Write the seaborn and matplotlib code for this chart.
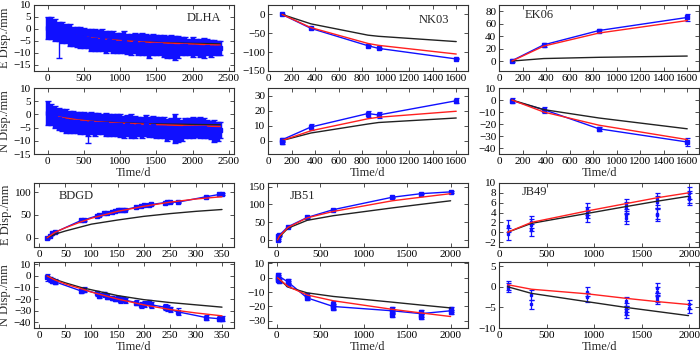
import matplotlib
matplotlib.use("Agg")
import matplotlib.pyplot as plt
import numpy as np
import pandas as pd
import seaborn as sns

# ---------------- data ----------------
# DLHA: dense daily series, sampled every 50 d (centre of blue band and half-width)
dlha_t = [0, 50, 100, 150, 200, 250, 300, 350, 400, 450, 500, 550, 600, 650, 700, 750,
          800, 850, 900, 950, 1000, 1050, 1100, 1150, 1200, 1250, 1300, 1350, 1400, 1450,
          1500, 1550, 1600, 1650, 1700, 1750, 1800, 1850, 1900, 1950, 2000, 2050, 2100,
          2150, 2200, 2250, 2300, 2350, 2380]
dlha_e = [0.5, 0.5, -0.5, -1.0, -1.5, -2.0, -2.5, -3.0, -3.2, -3.5, -3.8, -4.0, -4.5, -4.5,
          -4.8, -4.5, -5.5, -5.0, -5.5, -5.8, -5.8, -5.5, -6.2, -6.5, -5.8, -6.5, -6.2, -6.5,
          -7.2, -6.5, -6.8, -6.8, -7.0, -7.5, -7.2, -8.0, -7.5, -7.2, -7.2, -7.5, -7.5, -7.5,
          -7.8, -7.8, -7.5, -8.0, -7.8, -8.0, -8.0]
dlha_e_err = [4.5, 4.5, 4.5, 4.0, 4.5, 4.0, 4.5, 4.0, 4.2, 4.5, 4.3, 4.0, 4.5, 4.5, 4.2, 4.5,
              4.5, 4.0, 4.5, 4.2, 4.2, 4.5, 4.2, 4.5, 4.2, 4.5, 4.7, 4.5, 4.7, 4.5, 4.2, 4.2,
              4.5, 4.5, 4.7, 5.0, 4.5, 3.7, 3.7, 3.5, 4.0, 3.5, 3.7, 4.2, 3.5, 3.5, 3.2, 3.0, 3.0]
dlha_n = [0.5, 0.0, -1.0, -1.8, -2.2, -2.5, -2.8, -2.8, -3.0, -3.2, -3.2, -3.8, -3.2, -3.8,
          -3.5, -3.8, -3.8, -4.0, -4.0, -4.0, -4.2, -4.8, -4.2, -4.5, -4.8, -4.5, -5.0, -4.2,
          -4.8, -4.5, -5.0, -5.0, -5.0, -5.8, -5.5, -5.5, -6.0, -6.0, -5.2, -5.2, -5.0, -5.0,
          -5.0, -5.2, -5.5, -6.0, -6.2, -6.5, -6.0]
dlha_n_err = [4.5, 4.0, 4.0, 4.2, 4.2, 4.5, 4.2, 4.2, 4.0, 4.2, 4.2, 4.2, 4.2, 4.2, 4.0, 3.8,
              4.2, 4.0, 4.0, 4.0, 4.2, 4.2, 3.8, 4.5, 4.2, 3.5, 4.0, 3.8, 3.8, 4.0, 4.0, 4.0,
              4.0, 4.2, 4.0, 5.5, 4.5, 4.0, 3.8, 3.8, 4.0, 3.5, 4.0, 3.8, 3.5, 3.5, 4.2, 3.5, 3.0]
dlha_e_out_t, dlha_e_out, dlha_e_out_err = [150], [-8.0], [4.0]
dlha_n_out_t, dlha_n_out, dlha_n_out_err = [560], [-8.0], [3.0]
dlha_mt = [0, 100, 200, 400, 600, 800, 1000, 1250, 1500, 1750, 2000, 2250, 2380]
dlha_e_red = [0.5, -0.6, -1.5, -2.8, -3.7, -4.3, -4.8, -5.3, -5.7, -6.0, -6.3, -6.6, -6.7]
dlha_e_blk = [0.3, -0.8, -1.6, -2.9, -3.8, -4.4, -4.9, -5.3, -5.6, -5.8, -6.0, -6.1, -6.2]
dlha_n_red = [0.2, -0.6, -1.2, -2.0, -2.6, -3.0, -3.3, -3.6, -3.9, -4.1, -4.3, -4.5, -4.6]
dlha_n_blk = [0.0, -0.8, -1.3, -2.1, -2.6, -2.9, -3.2, -3.4, -3.6, -3.7, -3.8, -3.9, -3.9]

# NK03
nk03_t = [120, 365, 850, 940, 1600]
nk03_e = [0, -37, -83, -90, -118]
nk03_e_err = [1.5, 1.5, 1.5, 1.5, 1.5]
nk03_e_red = [0, -35, -77, -82, -105]
nk03_e_blk = [0, -25, -55, -58, -72]
nk03_n = [0.5, 9, 18, 17, 26.5]
nk03_n_err = [1.2, 2, 2, 1.8, 1.8]
nk03_n_red = [0, 6.5, 14.5, 15.5, 19.5]
nk03_n_blk = [0, 5, 11, 12, 15]

# EK06
ek06_t = [110, 380, 850, 1600]
ek06_e = [0.5, 26, 49, 70]
ek06_e_err = [2, 3, 2, 5]
ek06_e_red = [0, 24, 45, 65]
ek06_e_blk = [0, 4, 6, 8]
ek06_n = [-0.5, -8, -24, -35]
ek06_n_err = [2, 2.5, 1.5, 3.5]
ek06_n_red = [0, -10, -21, -33]
ek06_n_blk = [0, -8, -15, -24]

# BDGD
bdgd_t = [15, 20, 25, 30, 80, 85, 110, 115, 125, 130, 140, 145, 150, 155, 160, 165,
          185, 195, 200, 210, 215, 240, 245, 250, 265, 320, 345, 350]
bdgd_e = [0, 5, 10, 12, 38, 39, 48, 50, 54, 55, 57, 58, 60, 61, 62, 62,
          67, 70, 71, 72, 73, 77, 78, 78, 78, 90, 95, 96]
bdgd_n = [-1, -3, -4, -5, -13, -12, -15, -17, -16, -18, -19, -20, -19, -21, -20, -21,
          -23, -25, -24, -23, -25, -27, -28, -29, -31, -36, -37, -37]
bdgd_n_err = [3, 2, 2, 2, 2, 2, 2, 2, 2, 2, 2, 2, 2, 2, 2, 2,
              2.5, 2.5, 2.5, 2.5, 2.5, 2.5, 2.5, 2.5, 3, 2, 2, 2]
bdgd_mt = [15, 30, 50, 80, 100, 150, 200, 250, 300, 350]
bdgd_e_red = [0, 12, 22, 35, 43, 58, 69, 78, 85, 90]
bdgd_e_blk = [0, 8, 15, 24, 30, 39, 47, 53, 58, 62]
bdgd_n_red = [0, -3.5, -7, -11, -14, -20, -25, -29, -32, -34.5]
bdgd_n_blk = [0, -3, -6, -10, -12, -17, -20.5, -23, -25, -27]

# JB51
jb51_t = [10, 20, 30, 130, 350, 650, 1330, 1660, 2000]
jb51_e = [0, 10, 13, 37, 63, 85, 120, 130, 135]
jb51_e_red = [0, 5, 10, 35, 62, 80, 110, 120, 130]
jb51_e_blk = [0, 5, 8, 33, 55, 68, 90, 100, 110]
jb51_n_line = [2, -1, 1, -3, -14, -20, -23, -25, -23]
jb51_n_pt_t = [10, 10, 20, 20, 30, 130, 130, 350, 350, 650, 650, 650,
               1330, 1330, 1330, 1660, 1660, 1660, 2000, 2000]
jb51_n_pt = [2, -1.5, 0.5, -1, -2, -2, -4, -12, -14, -18, -20, -21,
             -22, -24, -26, -24, -26, -27, -22, -24]
jb51_mt = [10, 130, 350, 650, 1330, 1660, 2000]
jb51_n_red = [0, -6, -12, -16, -22, -24.5, -27]
jb51_n_blk = [0, -6.5, -10.5, -13, -17, -19, -21]

# JB49 (scattered repeated measurements, no connecting line)
jb49_t = [90, 340, 920, 1330, 1660, 1990]
jb49_e_red = [0, 2, 4.3, 5.8, 7, 8]
jb49_e_blk = [0, 1.8, 3.8, 5.2, 6.3, 7.3]
jb49_n_red = [0.5, -0.6, -1.7, -2.8, -3.6, -4.3]
jb49_n_blk = [0, -1.6, -3.6, -5, -6, -7]
jb49_e_pt_t = [90, 90, 340, 340, 340, 920, 920, 920, 1330, 1330, 1330, 1330,
               1660, 1660, 1660, 1660, 1990, 1990, 1990]
jb49_e_pt = [1.2, -0.3, 2.0, 1.5, 0.5, 4.8, 4.0, 3.2, 5.5, 5.0, 3.5, 2.8,
             6.8, 6.2, 3.8, 3.5, 8.0, 7.2, 6.8]
jb49_n_pt_t = [90, 90, 340, 340, 920, 920, 1330, 1330, 1330, 1330,
               1660, 1660, 1660, 1660, 1990, 1990]
jb49_n_pt = [0.3, -0.2, -2.0, -4.3, -1.2, -2.6, -3.5, -5.0, -5.8, -6.5,
             -0.3, -1.2, -2.6, -3.2, -4.2, -5.2]

# ---------------- style ----------------
sns.set_theme(style="ticks")
plt.rcParams["font.family"] = ["Liberation Serif", "DejaVu Serif"]
plt.rcParams["axes.edgecolor"] = "#333333"
plt.rcParams["axes.linewidth"] = 0.8

BLUE = "#1010ff"
RED = "#ff2020"
BLK = "#222222"

W, H = 700, 355
fig = plt.figure(figsize=(W / 100, H / 100), dpi=100)


def add_ax(x0, x1, y0, y1):
    # pixel box -> figure fraction
    return fig.add_axes([x0 / W, 1 - y1 / H, (x1 - x0) / W, (y1 - y0) / H])


cols = [(34, 234), (268, 468), (499, 699)]
rows = [(5, 71), (88, 154), (183, 247), (262, 328)]
axes = [[add_ax(c[0], c[1], r[0], r[1]) for c in cols] for r in rows]


def model(ax, t, red, blk):
    sns.lineplot(x=t, y=blk, color=BLK, linewidth=1.0, ax=ax, estimator=None, sort=False)
    sns.lineplot(x=t, y=red, color=RED, linewidth=1.0, ax=ax, estimator=None, sort=False)


def obs(ax, t, y, err, line=True, ms=2.5):
    if line:
        sns.lineplot(x=t, y=y, color=BLUE, linewidth=1.0, ax=ax, estimator=None, sort=False)
    ax.errorbar(t, y, yerr=err, fmt="s", color=BLUE, ms=ms, elinewidth=0.9,
                capsize=1.8, capthick=0.9, ls="none", zorder=1.5)


def style(ax, xlim, xticks, ylim, yticks, label=None, lpos=(0.8, 0.8)):
    ax.set_xlim(*xlim)
    ax.set_ylim(*ylim)
    ax.set_xticks(xticks)
    ax.set_yticks(yticks)
    ax.tick_params(direction="in", top=True, right=True, length=3, width=0.6,
                   labelsize=8, pad=2, colors="#333333", labelcolor="black")
    ax.set_xlabel("")
    ax.set_ylabel("")
    if label:
        ax.text(lpos[0], lpos[1], label, transform=ax.transAxes, fontsize=9,
                ha="center", va="center")


# DLHA
ax = axes[0][0]
ax.errorbar(dlha_t, dlha_e, yerr=dlha_e_err, fmt="s", color=BLUE, ms=2.5, elinewidth=3.2,
            capsize=2, capthick=1, ls="none")
ax.errorbar(dlha_e_out_t, dlha_e_out, yerr=dlha_e_out_err, fmt="none", color=BLUE,
            elinewidth=1, capsize=2)
model(ax, dlha_mt, dlha_e_red, dlha_e_blk)
style(ax, (-190, 2570), range(0, 2501, 500), (-17.5, 10), range(-15, 11, 5), "DLHA", (0.85, 0.8))
ax = axes[1][0]
ax.errorbar(dlha_t, dlha_n, yerr=dlha_n_err, fmt="s", color=BLUE, ms=2.5, elinewidth=3.2,
            capsize=2, capthick=1, ls="none")
ax.errorbar(dlha_n_out_t, dlha_n_out, yerr=dlha_n_out_err, fmt="none", color=BLUE,
            elinewidth=1, capsize=2)
model(ax, dlha_mt, dlha_n_red, dlha_n_blk)
style(ax, (-190, 2570), range(0, 2501, 500), (-15, 10), range(-15, 11, 5))

# NK03
ax = axes[0][1]
obs(ax, nk03_t, nk03_e, nk03_e_err)
model(ax, nk03_t, nk03_e_red, nk03_e_blk)
style(ax, (0, 1700), range(0, 1601, 200), (-150, 25), range(-150, 1, 50), "NK03", (0.83, 0.78))
ax = axes[1][1]
obs(ax, nk03_t, nk03_n, nk03_n_err)
ax.errorbar([120], [-1], yerr=[1], fmt="s", color=BLUE, ms=2.5, elinewidth=0.9, capsize=1.8)
model(ax, nk03_t, nk03_n_red, nk03_n_blk)
style(ax, (0, 1700), range(0, 1601, 200), (-9, 35), range(0, 31, 10))

# EK06
ax = axes[0][2]
obs(ax, ek06_t, ek06_e, ek06_e_err)
model(ax, ek06_t, ek06_e_red, ek06_e_blk)
style(ax, (0, 1700), range(0, 1601, 200), (-16, 90), range(0, 81, 20), "EK06", (0.2, 0.85))
ax = axes[1][2]
obs(ax, ek06_t, ek06_n, ek06_n_err)
model(ax, ek06_t, ek06_n_red, ek06_n_blk)
style(ax, (0, 1700), range(0, 1601, 200), (-45, 10), range(-40, 11, 10))

# BDGD
ax = axes[2][0]
obs(ax, bdgd_t, bdgd_e, [1.5] * len(bdgd_t))
model(ax, bdgd_mt, bdgd_e_red, bdgd_e_blk)
style(ax, (-10, 373), range(0, 351, 50), (-20, 120), range(0, 101, 50), "BDGD", (0.21, 0.8))
ax = axes[3][0]
obs(ax, bdgd_t, bdgd_n, bdgd_n_err)
model(ax, bdgd_mt, bdgd_n_red, bdgd_n_blk)
style(ax, (-10, 373), range(0, 351, 50), (-45, 12), range(-40, 11, 10))

# JB51
ax = axes[2][1]
obs(ax, jb51_t, jb51_e, [2] * len(jb51_t))
model(ax, jb51_t, jb51_e_red, jb51_e_blk)
style(ax, (-100, 2200), range(0, 2001, 500), (-20, 160), range(0, 151, 50), "JB51", (0.17, 0.8))
ax = axes[3][1]
sns.lineplot(x=jb51_t, y=jb51_n_line, color=BLUE, linewidth=1.0, ax=ax, estimator=None, sort=False)
obs(ax, jb51_n_pt_t, jb51_n_pt, [1.5] * len(jb51_n_pt), line=False)
model(ax, jb51_mt, jb51_n_red, jb51_n_blk)
style(ax, (-100, 2200), range(0, 2001, 500), (-35, 11), range(-30, 11, 10))

# JB49
ax = axes[2][2]
obs(ax, jb49_e_pt_t, jb49_e_pt, [1.2] * len(jb49_e_pt), line=False, ms=2)
model(ax, jb49_t, jb49_e_red, jb49_e_blk)
style(ax, (0, 2100), range(0, 2001, 500), (-3, 10), range(-2, 11, 2), "JB49", (0.18, 0.86))
ax = axes[3][2]
obs(ax, jb49_n_pt_t, jb49_n_pt, [1.1] * len(jb49_n_pt), line=False, ms=2)
model(ax, jb49_t, jb49_n_red, jb49_n_blk)
style(ax, (0, 2100), range(0, 2001, 500), (-10, 6), range(-10, 6, 5))

# axis labels
for r, lab in zip(range(4), ["E Disp./mm", "N Disp./mm", "E Disp./mm", "N Disp./mm"]):
    axes[r][0].set_ylabel(lab, fontsize=9, labelpad=2)
for r in (1, 3):
    for c in range(3):
        axes[r][c].set_xlabel("Time/d", fontsize=9, labelpad=1)

fig.savefig("out.png", dpi=100)
